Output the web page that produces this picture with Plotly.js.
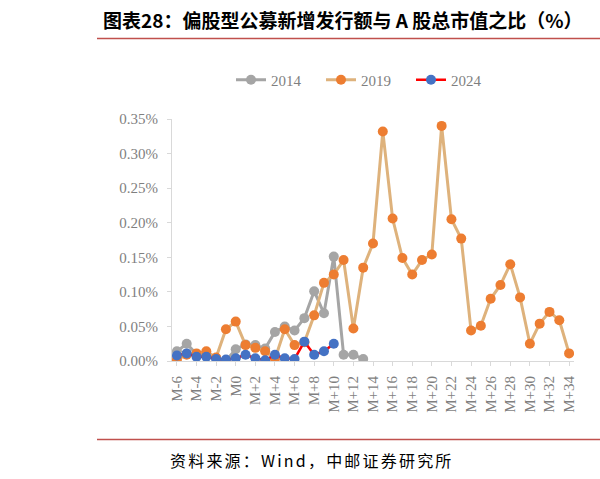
<!DOCTYPE html>
<html>
<head>
<meta charset="utf-8">
<script src="https://cdn.plot.ly/plotly-3.0.1.min.js"></script>
<style>
html,body{margin:0;padding:0;background:#fff;}
#chart{width:600px;height:479px;}
.annotation-text{letter-spacing:2.2px;}
</style>
</head>
<body>
<div id="chart"></div>
<script>
const categories = ["M-6","M-5","M-4","M-3","M-2","M-1","M0","M+1","M+2","M+3","M+4","M+5","M+6","M+7","M+8","M+9","M+10","M+11","M+12","M+13","M+14","M+15","M+16","M+17","M+18","M+19","M+20","M+21","M+22","M+23","M+24","M+25","M+26","M+27","M+28","M+29","M+30","M+31","M+32","M+33","M+34"];
const tickLabels = ["M-6","M-4","M-2","M0","M+2","M+4","M+6","M+8","M+10","M+12","M+14","M+16","M+18","M+20","M+22","M+24","M+26","M+28","M+30","M+32","M+34"];
const seriesNames = ["2014","2019","2024"];
// values in percent
const s2014 = [0.014,0.025,0.010,0.008,0.004,0.000,0.017,0.024,0.023,0.018,0.042,0.050,0.044,0.062,0.101,0.069,0.151,0.009,0.009,0.003];
const s2019 = [0.002,0.009,0.011,0.014,0.005,0.046,0.057,0.023,0.019,0.014,0.003,0.046,0.023,0.027,0.066,0.113,0.125,0.146,0.047,0.135,0.170,0.332,0.206,0.149,0.125,0.146,0.154,0.340,0.205,0.177,0.044,0.051,0.090,0.110,0.140,0.092,0.025,0.054,0.071,0.059,0.011];
const s2024 = [0.008,0.011,0.006,0.006,0.003,0.002,0.004,0.009,0.004,0.001,0.009,0.004,0.003,0.028,0.009,0.014,0.025];

const W = 600, H = 479;
const L = 172, R = 574, T = 119, B = 361;
const pw = R - L, ph = B - T;
const px = v => (v - L) / pw;
const py = v => (B - v) / ph;

const serif = "Liberation Serif, Times New Roman, serif";
const cjk = "Noto Sans CJK SC, sans-serif";

const traces = [
  {x: categories.slice(0, s2014.length), y: s2014, name: seriesNames[0], type: "scatter", mode: "lines+markers",
   line: {color: "#a5a5a5", width: 3}, marker: {color: "#a5a5a5", size: 10}},
  {x: categories.slice(0, s2019.length), y: s2019, name: seriesNames[1], type: "scatter", mode: "lines+markers",
   line: {color: "#deb27c", width: 3}, marker: {color: "#ed7d31", size: 10}},
  {x: categories.slice(0, s2024.length), y: s2024, name: seriesNames[2], type: "scatter", mode: "lines+markers",
   line: {color: "#ff0000", width: 2.5}, marker: {color: "#4472c4", size: 10}}
];

const layout = {
  width: W, height: H,
  paper_bgcolor: "#ffffff", plot_bgcolor: "#ffffff",
  margin: {l: L, r: W - R, t: T, b: H - B, pad: 0},
  title: {text: "<b>图表28：偏股型公募新增发行额与 A 股总市值之比（%）</b>", x: 103 / W, xanchor: "left", xref: "container",
          y: 1 - 21 / H, yanchor: "middle", yref: "container",
          font: {family: cjk, size: 19, color: "#000000"}},
  showlegend: true,
  legend: {orientation: "h", x: px(366), xanchor: "center", y: py(80), yanchor: "middle",
           entrywidth: 45, entrywidthmode: "pixels",
           font: {family: serif, size: 15, color: "#7f7f7f"}, bgcolor: "rgba(0,0,0,0)"},
  xaxis: {type: "category", categoryorder: "array", categoryarray: categories,
          range: [-0.5, categories.length - 0.5],
          tickmode: "array", tickvals: tickLabels, ticktext: tickLabels,
          tickangle: -90, showgrid: false, zeroline: false,
          showline: true, linecolor: "#d9d9d9", linewidth: 1,
          ticks: "outside", ticklen: 4, tickcolor: "#d9d9d9",
          ticklabelstandoff: 4,
          tickfont: {family: serif, size: 15, color: "#7f7f7f"}},
  yaxis: {range: [0, 0.35], tickmode: "linear", tick0: 0, dtick: 0.05,
          tickformat: ".2f", ticksuffix: "%",
          showgrid: false, zeroline: false,
          showline: true, linecolor: "#d9d9d9", linewidth: 1,
          ticks: "outside", ticklen: 4, tickcolor: "#d9d9d9",
          ticklabelstandoff: 6,
          tickfont: {family: serif, size: 15, color: "#7f7f7f"}},
  shapes: [
    {type: "line", xref: "paper", yref: "paper", x0: px(97), x1: px(600), y0: py(38.5), y1: py(38.5),
     line: {color: "#c0504d", width: 1.5}},
    {type: "line", xref: "paper", yref: "paper", x0: px(97), x1: px(600), y0: py(439.5), y1: py(439.5),
     line: {color: "#c0504d", width: 1.5}}
  ],
  annotations: [
    {text: "资料来源：Wind，中邮证券研究所", xref: "paper", yref: "paper", x: px(168), y: py(460),
     xanchor: "left", yanchor: "middle", showarrow: false,
     font: {family: cjk, size: 16, color: "#000000"}}
  ]
};

Plotly.newPlot("chart", traces, layout, {displayModeBar: false, staticPlot: true});
</script>
</body>
</html>
